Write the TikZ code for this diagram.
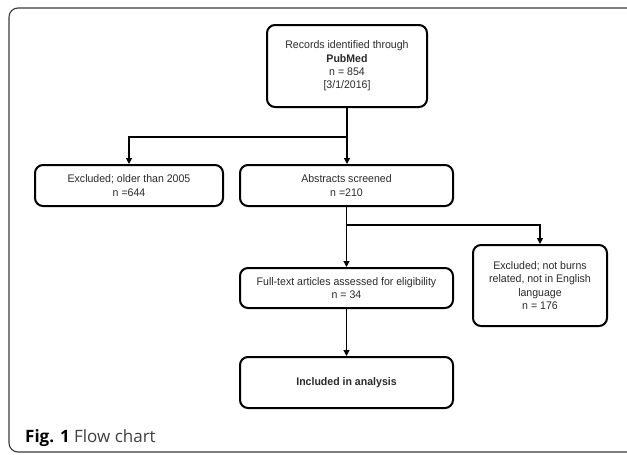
\documentclass[tikz,border=0pt]{standalone}
\usepackage{fontspec}
\setmainfont{Liberation Sans}[FakeStretch=0.96]
\newfontfamily\capfont{Open Sans}
\usetikzlibrary{arrows.meta}
\definecolor{txt}{HTML}{2B2B2B}
\definecolor{framec}{HTML}{3A3A3A}
\tikzset{
  box/.style={draw=black, line width=2pt, rounded corners=8pt, fill=white,
    align=center, inner sep=0pt, text=txt,
    font=\fontsize{11}{13.3}\selectfont},
  conn/.style={draw=black, line width=1.2pt},
  arr/.style={conn, -{Triangle[length=6pt,width=6pt]}},
}
\begin{document}
\begin{tikzpicture}[x=1pt,y=-1pt]
\useasboundingbox (0,0) rectangle (627,455);
\begin{scope}
\clip (0,0) rectangle (627,455);
\draw[framec, line width=1.1pt, rounded corners=9pt] (9,8) rectangle (660,452);
\end{scope}
% nodes
\node[box, minimum width=160pt, minimum height=82pt] (top) at (347,66)
  {Records identified through\\\textbf{PubMed}\\n = 854\\{}[3/1/2016]};
\node[box, minimum width=188pt, minimum height=41pt] (ex1) at (129,185.5)
  {Excluded; older than 2005\\n =644};
\node[box, minimum width=213pt, minimum height=41pt] (abs) at (346.5,185.5)
  {Abstracts screened\\n =210};
\node[box, minimum width=213pt, minimum height=40pt] (full) at (346.5,288)
  {Full-text articles assessed for eligibility\\n = 34};
\node[box, minimum width=134pt, minimum height=81pt] (ex2) at (540,285.5)
  {Excluded; not burns\\related, not in English\\language\\n = 176};
\node[box, minimum width=213pt, minimum height=51pt] (inc) at (346.5,382.5)
  {\textbf{Included in analysis}};
% junctions
\coordinate (j1) at (347,137);
\coordinate (j2) at (347,225);
% connectors
\draw[arr] (top.south) -- (top.south |- abs.north);
\draw[arr] (j1) -| (ex1.north);
\draw[arr] (abs.south) -- (abs.south |- full.north);
\draw[arr] (j2) -| (ex2.north);
\draw[arr] (full.south) -- (inc.north);
% caption
\node[anchor=base west, inner sep=0pt, font=\capfont\fontsize{17}{20}\selectfont]
  (cap) at (25,442) {\textbf{Fig. 1} \textcolor{black!75}{Flow chart}};
\end{tikzpicture}
\end{document}
